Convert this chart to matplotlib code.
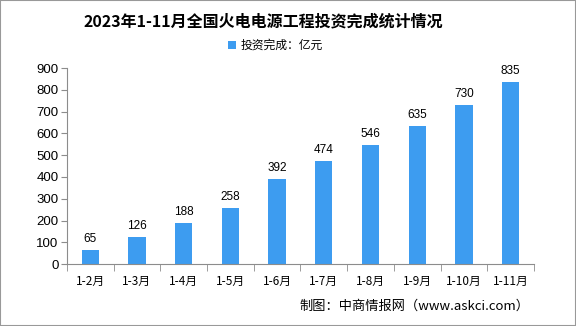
import matplotlib.pyplot as plt
from matplotlib.patches import Rectangle

plt.rcParams['font.family'] = ['Noto Sans CJK SC', 'DejaVu Sans']

# 数据
months = ['1-2月', '1-3月', '1-4月', '1-5月', '1-6月', '1-7月',
          '1-8月', '1-9月', '1-10月', '1-11月']
invest = [65, 126, 188, 258, 392, 474, 546, 635, 730, 835]

bar_color = '#3d9cf0'
axis_color = '#8c8c8c'

fig = plt.figure(figsize=(5.76, 3.26), dpi=100)
ax = fig.add_axes([0.116, 0.19, 0.811, 0.601])

x = list(range(len(months)))
bars = ax.bar(x, invest, width=0.37, color=bar_color, label='投资完成：亿元')
for xi, v in zip(x, invest):
    ax.text(xi, v + 22, str(v), ha='center', va='bottom', fontsize=8.5,
            family=['Liberation Sans', 'DejaVu Sans'])

ax.set_xlim(-0.5, len(months) - 0.5)
ax.set_ylim(0, 900)
ax.set_yticks(range(0, 901, 100))
ax.set_xticks(x)
ax.set_xticklabels(months, fontsize=8.5)
ax.set_xticks([i - 0.5 for i in range(len(months) + 1)], minor=True)
ax.tick_params(axis='x', which='major', length=0, pad=8)
ax.tick_params(axis='x', which='minor', length=5, color=axis_color)
ax.tick_params(axis='y', length=4, color=axis_color, labelsize=9.5, pad=2)
for lab in ax.get_yticklabels():
    lab.set_family(['Liberation Sans', 'DejaVu Sans'])

for s in ['top', 'right']:
    ax.spines[s].set_visible(False)
for s in ['left', 'bottom']:
    ax.spines[s].set_color(axis_color)

fig.text(0.458, 0.935, '2023年1-11月全国火电电源工程投资完成统计情况',
         ha='center', va='center', fontsize=11.5, fontweight='bold')

leg = fig.legend(handles=[bars], labels=['投资完成：亿元'], loc='center',
                 bbox_to_anchor=(0.478, 0.86), frameon=False, fontsize=8.5,
                 handlelength=0.7, handleheight=0.7, handletextpad=0.4)

fig.text(0.92, 0.06, '制图：中商情报网（www.askci.com）', ha='right',
         va='center', fontsize=9.5)

# 外框
fig.patches.append(Rectangle((0, 0), 1, 1, transform=fig.transFigure,
                             fill=False, edgecolor='#999999', linewidth=1.5))

fig.savefig('out.png', dpi=100)
